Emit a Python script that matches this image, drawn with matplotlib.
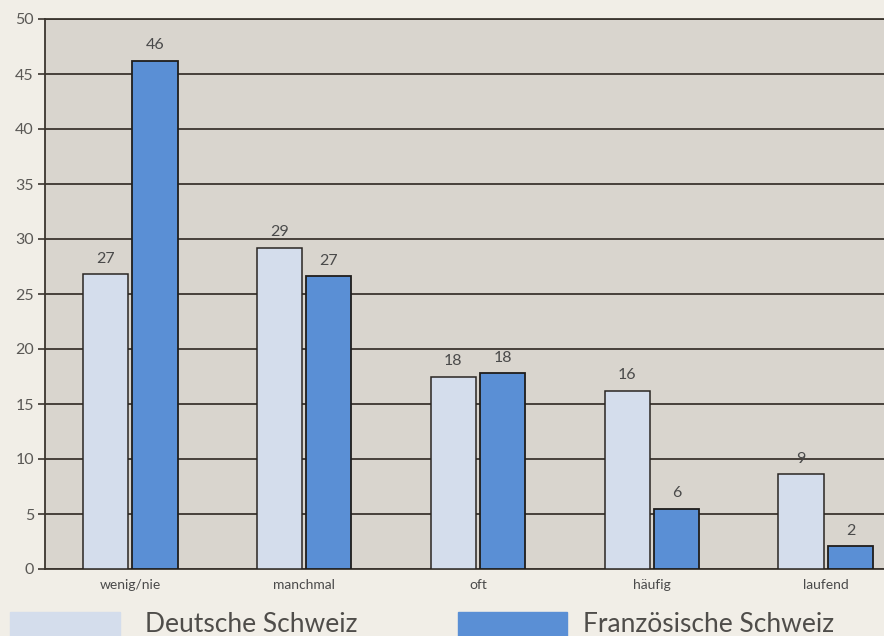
import matplotlib
matplotlib.use("Agg")
import numpy as np
from matplotlib import pyplot as plt
from matplotlib.patches import Rectangle

# Data
categories = ["wenig/nie", "manchmal", "oft", "häufig", "laufend"]
deutsche = [26.8, 29.2, 17.5, 16.2, 8.6]
franzoesische = [46.2, 26.6, 17.8, 5.5, 2.1]
deutsche_labels = ["27", "29", "18", "16", "9"]
franzoesische_labels = ["46", "27", "18", "6", "2"]
series_names = ["Deutsche Schweiz", "Französische Schweiz"]
yticks = [0, 5, 10, 15, 20, 25, 30, 35, 40, 45, 50]

# Colours
light_blue = "#d4ddec"
mid_blue = "#5a8fd5"
plot_bg = "#d9d5ce"
page_bg = "#f1eee7"
line_col = "#3b352f"
text_col = "#4a4a4a"

plt.rcParams['font.family'] = ['Lato', 'DejaVu Sans']

fig = plt.figure(figsize=(8.84, 6.36), dpi=100, facecolor=page_bg)
ax = fig.add_axes([45 / 884, 1 - 569 / 636, 1 - 45 / 884, 550 / 636])
ax.set_facecolor(plot_bg)

x = np.arange(len(categories))
width = 0.26
offset = 0.142

bars_de = ax.bar(x - offset, deutsche, width, color=light_blue,
                 edgecolor="#2a2622", linewidth=1.1, zorder=3)
bars_fr = ax.bar(x + offset, franzoesische, width, color=mid_blue,
                 edgecolor="#1f1d1b", linewidth=1.3, zorder=3)

# Value labels above the bars
for bars, labels in [(bars_de, deutsche_labels), (bars_fr, franzoesische_labels)]:
    for bar, lab in zip(bars, labels):
        ax.annotate(lab, (bar.get_x() + bar.get_width() / 2, bar.get_height()),
                    xytext=(0, 6), textcoords="offset points",
                    ha="center", va="bottom", fontsize=11.5, color=text_col)

ax.set_xlim(-0.49, 4.335)
ax.set_ylim(0, 50)
ax.set_yticks(yticks)
ax.yaxis.grid(True, color=line_col, linewidth=1.3, zorder=0)
ax.set_axisbelow(True)

ax.set_xticks(x)
ax.set_xticklabels(categories)
ax.tick_params(axis="x", length=0, pad=7, labelsize=10, labelcolor=text_col)
ax.tick_params(axis="y", length=5, width=1.2, color=line_col, pad=3,
               labelsize=11.5, labelcolor="#5a5855")

for side in ["left", "bottom", "top"]:
    ax.spines[side].set_color(line_col)
    ax.spines[side].set_linewidth(1.3)
ax.spines["right"].set_visible(False)

# Legend along the bottom edge (cut off like the scan)
fig.patches.append(Rectangle((10 / 884, -0.02), 110 / 884, 0.058,
                             transform=fig.transFigure, color=light_blue,
                             figure=fig))
fig.text(145 / 884, 0.006, series_names[0], fontsize=19, color="#4f4d4a",
         va="baseline", ha="left")
fig.patches.append(Rectangle((458 / 884, -0.02), 109 / 884, 0.058,
                             transform=fig.transFigure, color=mid_blue,
                             figure=fig))
fig.text(583 / 884, 0.006, series_names[1], fontsize=19, color="#4f4d4a",
         va="baseline", ha="left")

plt.savefig("out.png", dpi=100, facecolor=page_bg)
plt.close()
